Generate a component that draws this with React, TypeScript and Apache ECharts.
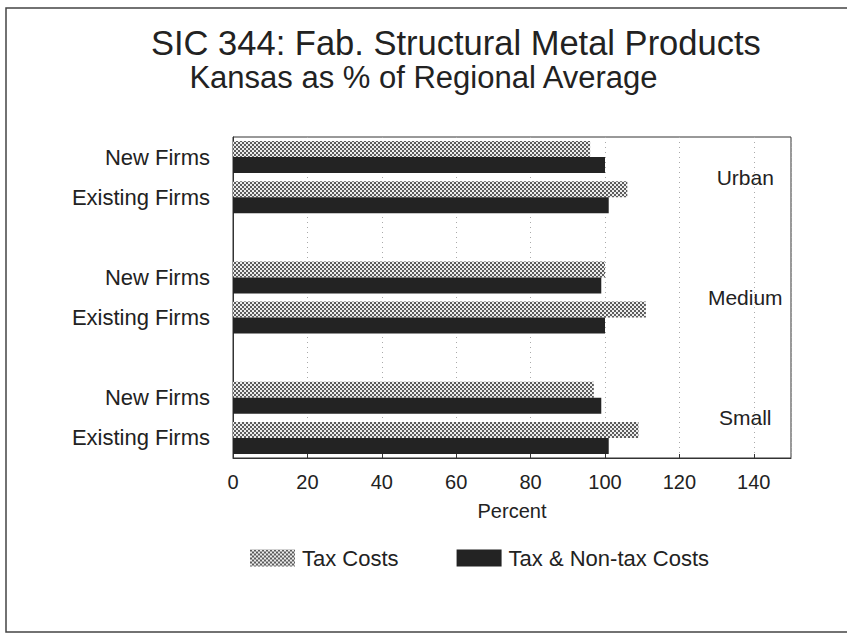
import React, { useEffect, useRef } from "react";
import * as echarts from "echarts";

const categoryKeys = [
  "Urban New",
  "Urban Existing",
  "gap1",
  "Medium New",
  "Medium Existing",
  "gap2",
  "Small New",
  "Small Existing",
];
const categoryLabels = [
  "New Firms",
  "Existing Firms",
  "",
  "New Firms",
  "Existing Firms",
  "",
  "New Firms",
  "Existing Firms",
];
const taxCosts: (number | string)[] = [96, 106, "-", 100, 111, "-", 97, 109];
const taxNonTaxCosts: (number | string)[] = [100, 101, "-", 99, 100, "-", 99, 101];
const groups = ["Urban", "Medium", "Small"];
const groupCategoryPairs = [
  ["Urban New", "Urban Existing"],
  ["Medium New", "Medium Existing"],
  ["Small New", "Small Existing"],
];
const xTicks = [0, 20, 40, 60, 80, 100, 120, 140];

const FONT = "'Liberation Sans', Arial, Helvetica, sans-serif";

function makeChecker(): HTMLCanvasElement {
  const c = document.createElement("canvas");
  c.width = 4;
  c.height = 4;
  const ctx = c.getContext("2d")!;
  ctx.fillStyle = "#ececec";
  ctx.fillRect(0, 0, 4, 4);
  ctx.fillStyle = "#5c5c5c";
  ctx.fillRect(0, 0, 2, 2);
  ctx.fillRect(2, 2, 2, 2);
  return c;
}

export default function App() {
  const ref = useRef<HTMLDivElement>(null);
  useEffect(() => {
    if (!ref.current) return;
    const chart = echarts.init(ref.current, null, { renderer: "svg" });
    const checker = makeChecker();
    const pattern: any = {
      image: checker,
      repeat: "repeat",
      imageWidth: 4,
      imageHeight: 4,
    };
    const option: any = {
      animation: false,
      backgroundColor: "#ffffff",
      textStyle: { fontFamily: FONT, color: "#222" },
      title: [
        {
          text: "SIC 344: Fab. Structural Metal Products",
          left: 146,
          top: 20,
          textStyle: { fontFamily: FONT, fontSize: 34.5, fontWeight: "normal", color: "#222" },
        },
        {
          text: "Kansas as % of Regional Average",
          left: "center",
          top: 57,
          textStyle: { fontFamily: FONT, fontSize: 31, fontWeight: "normal", color: "#222" },
        },
      ],
      grid: {
        left: 233,
        top: 137,
        width: 558,
        height: 321,
        show: true,
        borderColor: "#333",
        borderWidth: 1,
        containLabel: false,
      },
      legend: {
        left: 245,
        top: 542,
        itemWidth: 45,
        itemHeight: 17,
        itemGap: 58,
        icon: "rect",
        textStyle: { fontFamily: FONT, fontSize: 22, color: "#222", padding: [0, 0, 0, 2] },
        data: ["Tax Costs", "Tax & Non-tax Costs"],
      },
      xAxis: {
        type: "value",
        min: 0,
        max: 150,
        interval: 20,
        name: "Percent",
        nameLocation: "middle",
        nameGap: 43,
        nameTextStyle: { fontFamily: FONT, fontSize: 20, color: "#222" },
        axisLine: { show: true, lineStyle: { color: "#333", width: 1 } },
        axisTick: { show: true, inside: true, length: 4, lineStyle: { color: "#333" } },
        axisLabel: {
          fontFamily: FONT,
          fontSize: 20,
          color: "#222",
          margin: 14,
          showMaxLabel: false,
          formatter: (v: number) => (xTicks.indexOf(v) >= 0 ? String(v) : ""),
        },
        splitLine: {
          show: true,
          lineStyle: { color: "#aaa", width: 1, type: [1, 4] },
        },
      },
      yAxis: {
        type: "category",
        inverse: true,
        data: categoryKeys,
        axisLine: { show: true, lineStyle: { color: "#333", width: 1 } },
        axisTick: { show: false },
        axisLabel: {
          fontFamily: FONT,
          fontSize: 22,
          color: "#222",
          margin: 23,
          interval: 0,
          formatter: (_v: string, i: number) => categoryLabels[i],
        },
        splitLine: { show: false },
      },
      series: [
        {
          name: "Tax Costs",
          type: "bar",
          data: taxCosts,
          barWidth: 16,
          barGap: "0%",
          itemStyle: { color: pattern },
        },
        {
          name: "Tax & Non-tax Costs",
          type: "bar",
          data: taxNonTaxCosts,
          barWidth: 16,
          barGap: "0%",
          itemStyle: { color: "#232323" },
        },
      ],
    };
    chart.setOption(option);

    const labelValue = 137.7;
    const groupTexts = groups.map((g, i) => {
      const p1 = chart.convertToPixel({ gridIndex: 0 }, [labelValue, groupCategoryPairs[i][0]]) as number[];
      const p2 = chart.convertToPixel({ gridIndex: 0 }, [labelValue, groupCategoryPairs[i][1]]) as number[];
      return {
        type: "text",
        x: p1[0],
        y: (p1[1] + p2[1]) / 2,
        style: {
          text: g,
          fontFamily: FONT,
          fontSize: 21,
          fill: "#222",
          textAlign: "center",
          textVerticalAlign: "middle",
        },
        z: 10,
      };
    });
    chart.setOption({
      graphic: [
        {
          type: "rect",
          shape: { x: 6, y: 8, width: 900, height: 624 },
          style: { fill: "none", stroke: "#444", lineWidth: 1.5 },
          silent: true,
        },
        ...groupTexts,
      ],
    });

    return () => chart.dispose();
  }, []);
  return (
    <div
      ref={ref}
      style={{ position: "fixed", left: 0, top: 0, width: 847, height: 635 }}
    />
  );
}
